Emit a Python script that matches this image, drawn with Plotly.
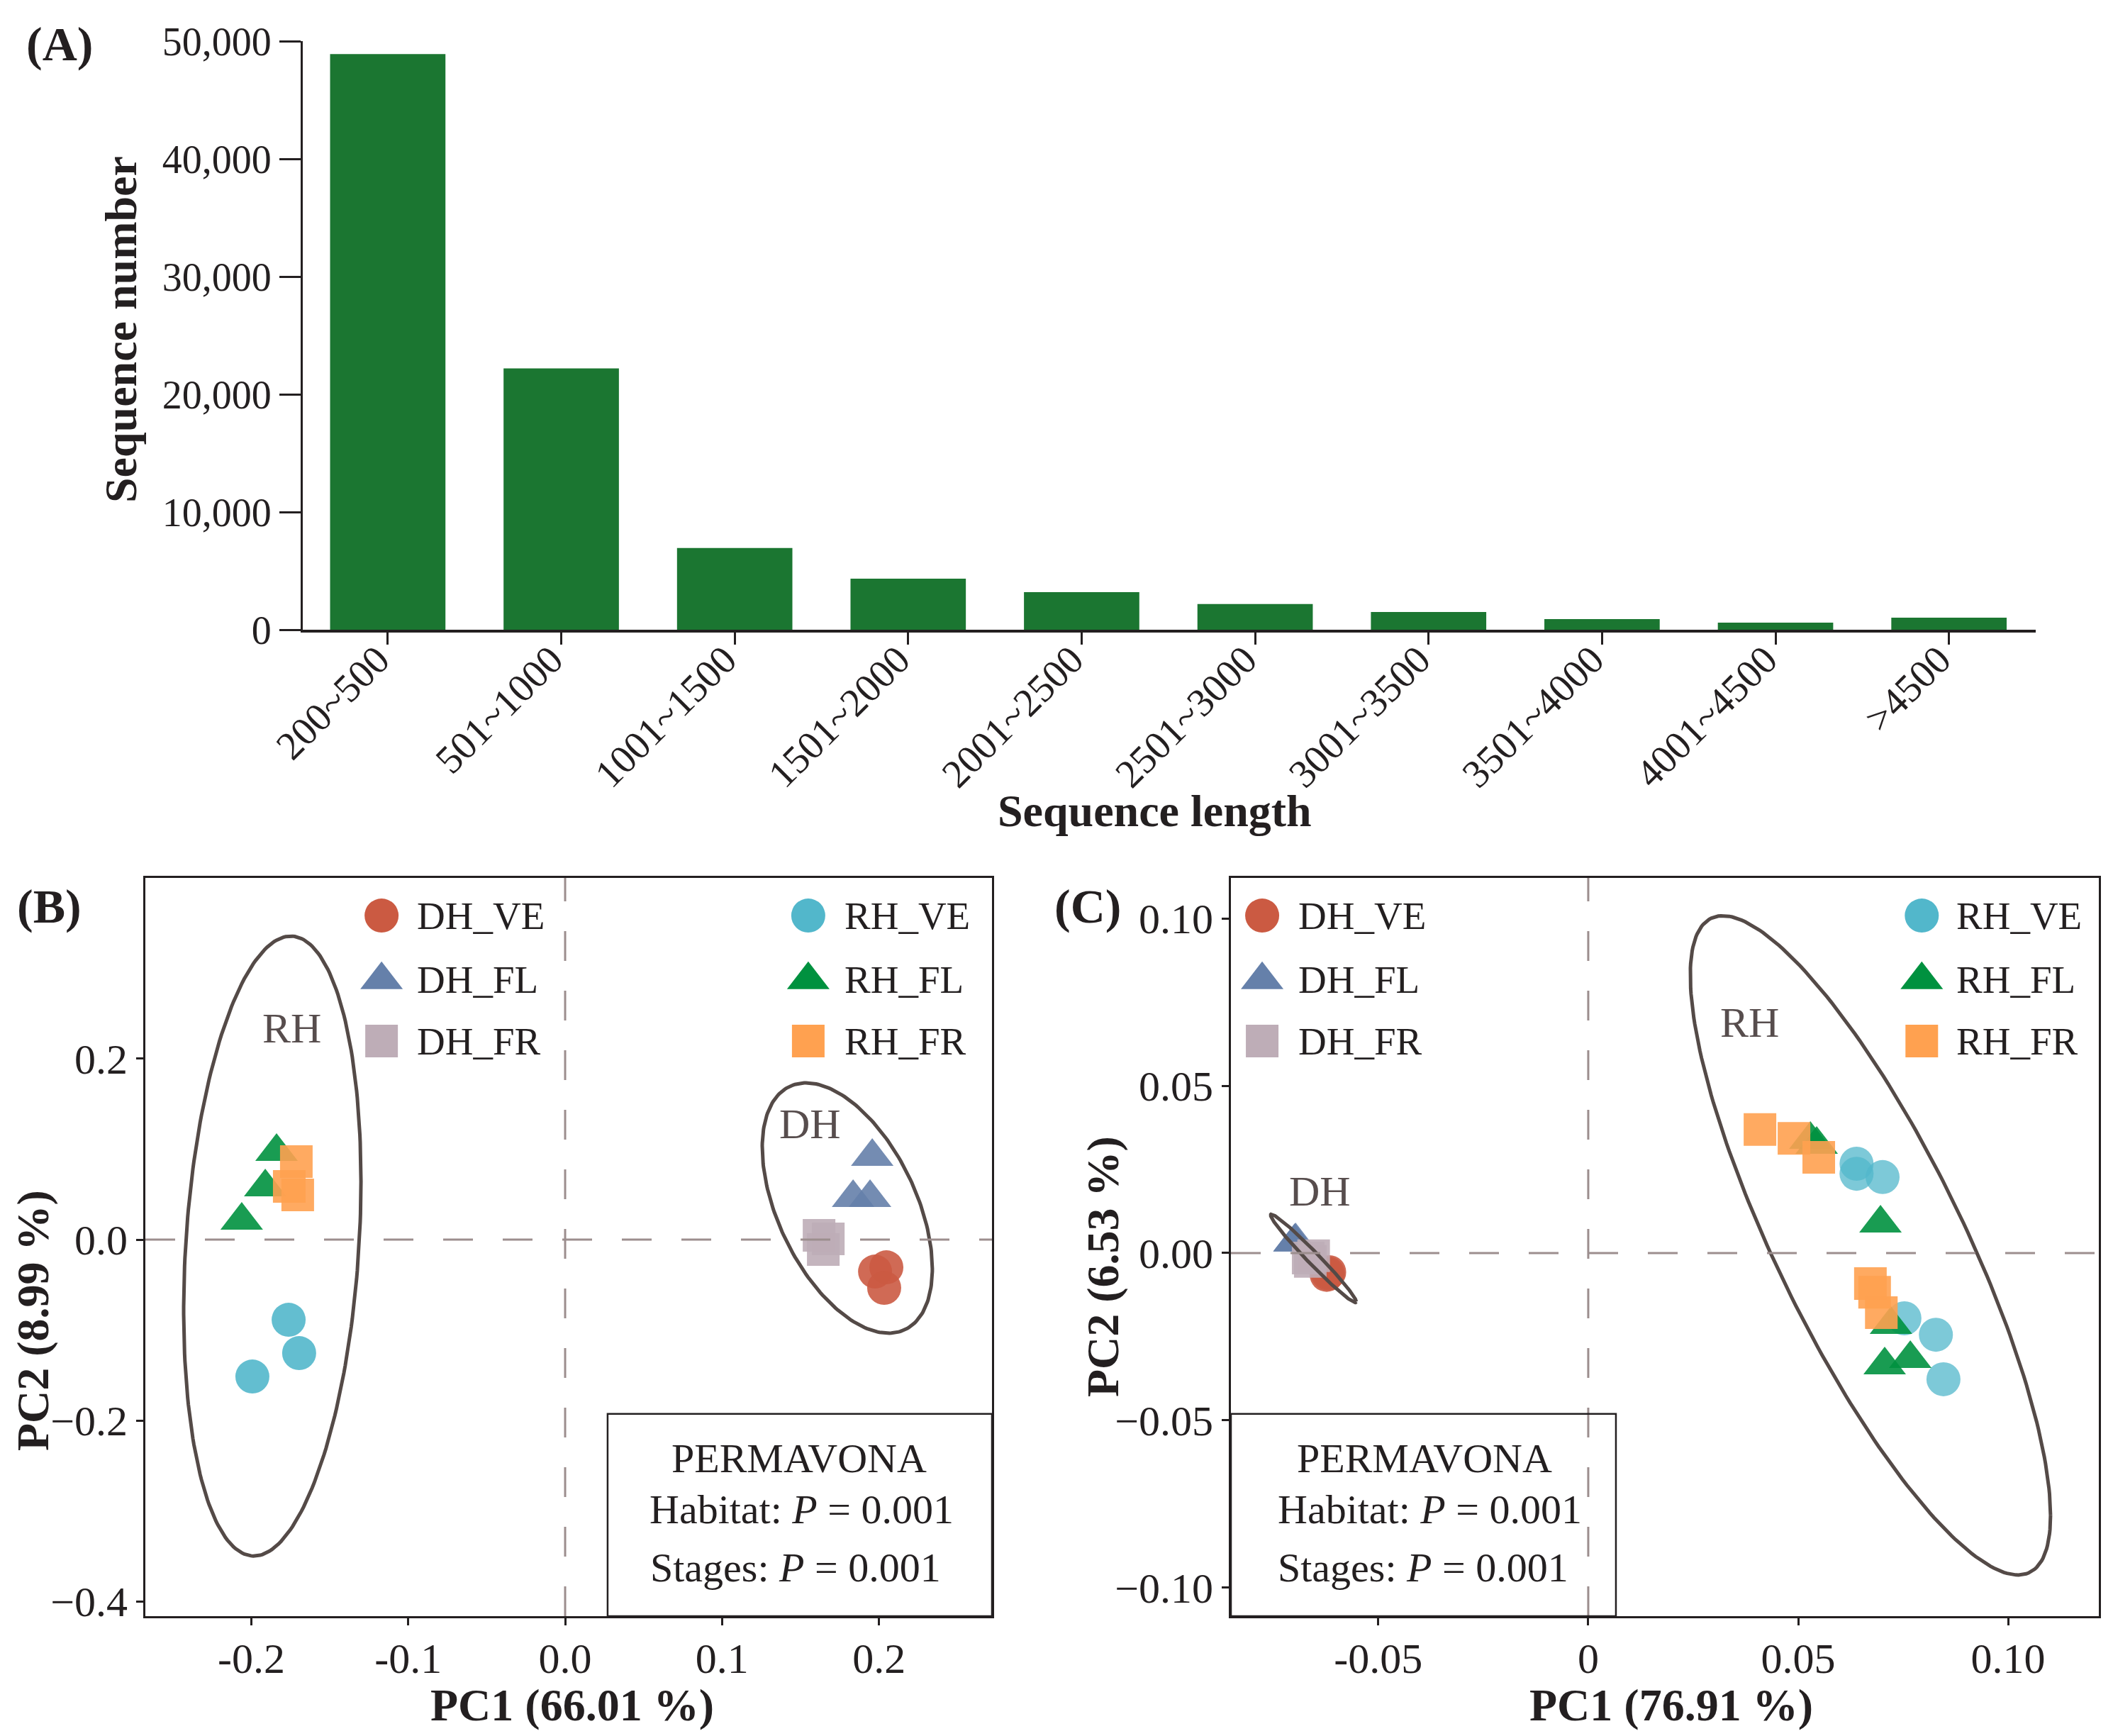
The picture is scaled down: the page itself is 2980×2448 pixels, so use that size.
import numpy as np
import plotly.graph_objects as go

# ---- (A) sequence length distribution ----
LENGTH_BINS = ["200~500", "501~1000", "1001~1500", "1501~2000", "2001~2500",
               "2501~3000", "3001~3500", "3501~4000", "4001~4500", ">4500"]
SEQ_COUNTS = [48900, 22200, 6950, 4330, 3200, 2180, 1500, 900, 600, 1030]
A_YTICKS = [0, 10000, 20000, 30000, 40000, 50000]
A_YTICKTEXT = ["0", "10,000", "20,000", "30,000", "40,000", "50,000"]

# ---- (B) PCA, PC1 66.01 % / PC2 8.99 % ----
B_DH_VE_X = [0.1975, 0.2047, 0.2033]
B_DH_VE_Y = [-0.0353, -0.0306, -0.0533]
B_DH_FL_X = [0.1957, 0.1835, 0.1943]
B_DH_FL_Y = [0.0917, 0.0462, 0.0462]
B_DH_FR_X = [0.1618, 0.1677, 0.1645]
B_DH_FR_Y = [0.0047, 0.0008, -0.0110]
B_RH_VE_X = [-0.1762, -0.1695, -0.1993]
B_RH_VE_Y = [-0.0886, -0.1254, -0.1513]
B_RH_FL_X = [-0.1839, -0.1911, -0.2061]
B_RH_FL_Y = [0.0972, 0.0580, 0.0212]
B_RH_FR_X = [-0.1713, -0.1758, -0.1704]
B_RH_FR_Y = [0.0862, 0.0588, 0.0494]

# ---- (C) PCA, PC1 76.91 % / PC2 6.53 % ----
C_DH_VE_X = [-0.0620, -0.0617, -0.0623]
C_DH_VE_Y = [-0.0061, -0.0057, -0.0065]
C_DH_FL_X = [-0.0699, -0.0697, -0.0700]
C_DH_FL_Y = [0.0034, 0.0036, 0.0032]
C_DH_FR_X = [-0.0667, -0.0654, -0.0662]
C_DH_FR_Y = [-0.0015, -0.0008, -0.0025]
C_RH_VE_X = [0.0639, 0.0639, 0.0701, 0.0753, 0.0828, 0.0846]
C_RH_VE_Y = [0.0267, 0.0237, 0.0227, -0.0195, -0.0244, -0.0377]
C_RH_FL_X = [0.0529, 0.0544, 0.0696, 0.0721, 0.0706, 0.0767]
C_RH_FL_Y = [0.0339, 0.0324, 0.0089, -0.0214, -0.0335, -0.0316]
C_RH_FR_X = [0.0409, 0.0490, 0.0549, 0.0672, 0.0682, 0.0698]
C_RH_FR_Y = [0.0369, 0.0343, 0.0286, -0.0091, -0.0117, -0.0178]

# habitat ellipses: centre x, centre y, half-width x, half-height y, phase (deg)
B_ELL_RH = [-0.1866, -0.0071, 0.0565, 0.3425, 78]
B_ELL_DH = [0.1798, 0.0349, 0.0542, 0.1383, 119]
C_ELL_DH = [-0.06545, -0.0016, 0.0102, 0.0132, 169]
C_ELL_RH = [0.0672, 0.0023, 0.0429, 0.0985, 145]

B_XTICKS = [-0.2, -0.1, 0.0, 0.1, 0.2]
B_XTICKTEXT = ["-0.2", "-0.1", "0.0", "0.1", "0.2"]
B_YTICKS = [-0.4, -0.2, 0.0, 0.2]
B_YTICKTEXT = ["\u22120.4", "\u22120.2", "0.0", "0.2"]
C_XTICKS = [-0.05, 0.0, 0.05, 0.10]
C_XTICKTEXT = ["-0.05", "0", "0.05", "0.10"]
C_YTICKS = [-0.10, -0.05, 0.0, 0.05, 0.10]
C_YTICKTEXT = ["\u22120.10", "\u22120.05", "0.00", "0.05", "0.10"]

GROUPS = ["DH_VE", "DH_FL", "DH_FR", "RH_VE", "RH_FL", "RH_FR"]
COLORS = {"DH_VE": "#CB5A42", "DH_FL": "#6580AA", "DH_FR": "#BEADB7",
          "RH_VE": "#52B7CB", "RH_FL": "#00913F", "RH_FR": "#FFA150"}
SYMBOLS = {"DH_VE": "circle", "DH_FL": "triangle-up", "DH_FR": "square",
           "RH_VE": "circle", "RH_FL": "triangle-up", "RH_FR": "square"}
SIZES = {"circle": 48, "triangle-up": 52, "square": 46}

FONT = "Liberation Serif"
INK = "#231f20"
ELL_COLOR = "#544a47"
DASH_COLOR = "#9C8E8E"

W, H = 2980, 2448
OFF = 8  # the page body margin shifts the figure by this much


def px(x):
    return (x - OFF) / W


def py(y):
    return 1 - (y - OFF) / H


fig = go.Figure()

# (A) bars
fig.add_trace(go.Bar(x=LENGTH_BINS, y=SEQ_COUNTS, width=0.665,
                     marker=dict(color="#1B7631", line=dict(width=0)),
                     xaxis="x", yaxis="y", showlegend=False))


def ellipse(p, n=240):
    cx, cy, rx, ry, ph = p
    t = np.linspace(0, 2 * np.pi, n)
    return cx + rx * np.cos(t), cy + ry * np.cos(t - np.radians(ph))


def add_points(data, xa, ya, opac):
    for g in GROUPS:
        xs, ys = data[g]
        fig.add_trace(go.Scatter(
            x=xs, y=ys, mode="markers", xaxis=xa, yaxis=ya, showlegend=False,
            marker=dict(symbol=SYMBOLS[g], size=SIZES[SYMBOLS[g]], color=COLORS[g],
                        opacity=opac.get(g, 0.9), line=dict(width=0))))


b_data = {"DH_VE": (B_DH_VE_X, B_DH_VE_Y), "DH_FL": (B_DH_FL_X, B_DH_FL_Y),
          "DH_FR": (B_DH_FR_X, B_DH_FR_Y), "RH_VE": (B_RH_VE_X, B_RH_VE_Y),
          "RH_FL": (B_RH_FL_X, B_RH_FL_Y), "RH_FR": (B_RH_FR_X, B_RH_FR_Y)}
c_data = {"DH_VE": (C_DH_VE_X, C_DH_VE_Y), "DH_FL": (C_DH_FL_X, C_DH_FL_Y),
          "DH_FR": (C_DH_FR_X, C_DH_FR_Y), "RH_VE": (C_RH_VE_X, C_RH_VE_Y),
          "RH_FL": (C_RH_FL_X, C_RH_FL_Y), "RH_FR": (C_RH_FR_X, C_RH_FR_Y)}

add_points(b_data, "x2", "y2", {})
add_points(c_data, "x3", "y3", {"RH_VE": 0.75})

for p, xa, ya in [(B_ELL_RH, "x2", "y2"), (B_ELL_DH, "x2", "y2"),
                  (C_ELL_DH, "x3", "y3"), (C_ELL_RH, "x3", "y3")]:
    ex, ey = ellipse(p)
    fig.add_trace(go.Scatter(x=ex, y=ey, mode="lines", xaxis=xa, yaxis=ya,
                             line=dict(color=ELL_COLOR, width=5), showlegend=False,
                             hoverinfo="skip"))

# legend keys drawn on hidden overlay axes (0-1 over each PCA panel)
LEG_ROWS = [0.949, 0.862, 0.779]
LEG_KEYS = {  # panel -> axes, then x of left key / left text / right key / right text
    "B": ("x4", "y4", "x2", 0.279, 0.319, 0.783, 0.824),
    "C": ("x5", "y5", "x3", 0.036, 0.076, 0.796, 0.834),
}
annotations = []
for panel, (xa, ya, xref, kx1, tx1, kx2, tx2) in LEG_KEYS.items():
    for col, (kx, tx) in enumerate([(kx1, tx1), (kx2, tx2)]):
        for r, g in enumerate(GROUPS[col * 3:(col + 1) * 3]):
            fig.add_trace(go.Scatter(
                x=[kx], y=[LEG_ROWS[r]], mode="markers", xaxis=xa, yaxis=ya,
                showlegend=False, hoverinfo="skip",
                marker=dict(symbol=SYMBOLS[g], size=SIZES[SYMBOLS[g]],
                            color=COLORS[g], line=dict(width=0))))
            annotations.append(dict(
                text=g, x=tx, y=LEG_ROWS[r], xref=xref + " domain",
                yref=xref.replace("x", "y") + " domain", xanchor="left",
                yanchor="middle", showarrow=False,
                font=dict(family=FONT, size=55, color=INK)))

# group labels
for txt, x, y, xr in [("RH", -0.174, 0.2335, "x2"), ("DH", 0.1559, 0.1277, "x2"),
                      ("DH", -0.0639, 0.0184, "x3"), ("RH", 0.0385, 0.0689, "x3")]:
    annotations.append(dict(text=txt, x=x, y=y, xref=xr, yref=xr.replace("x", "y"),
                            showarrow=False, xanchor="center", yanchor="middle",
                            font=dict(family=FONT, size=60, color="#574d4d")))

# PERMANOVA text boxes
BOX_LINES = ["PERMAVONA", "Habitat: <i>P</i> = 0.001", "Stages: <i>P</i> = 0.001"]
BOX_ROWS = [0.214, 0.145, 0.066]
for xr, xs in [("x2", [0.772, 0.775, 0.768]), ("x3", [0.223, 0.229, 0.221])]:
    for line, x, y in zip(BOX_LINES, xs, BOX_ROWS):
        annotations.append(dict(text=line, x=x, y=y, xref=xr + " domain",
                                yref=xr.replace("x", "y") + " domain", showarrow=False,
                                xanchor="center", yanchor="middle",
                                font=dict(family=FONT, size=58, color=INK)))

# axis titles and panel letters (positions in figure pixels)
bold = dict(family=FONT, size=64, color=INK)
for txt, x, y, ang in [("Sequence length", 1628, 1143, 0),
                       ("Sequence number", 170, 465, -90),
                       ("PC1 (66.01 %)", 807, 2404, 0),
                       ("PC2 (8.99 %)", 46, 1862, -90),
                       ("PC1 (76.91 %)", 2357, 2404, 0),
                       ("PC2 (6.53 %)", 1555, 1786, -90)]:
    annotations.append(dict(text="<b>%s</b>" % txt, x=px(x), y=py(y), xref="paper",
                            yref="paper", textangle=ang, showarrow=False,
                            xanchor="center", yanchor="middle", font=bold))
for txt, x, y in [("(A)", 84, 62), ("(B)", 69, 1278), ("(C)", 1534, 1278)]:
    annotations.append(dict(text="<b>%s</b>" % txt, x=px(x), y=py(y), xref="paper",
                            yref="paper", showarrow=False, xanchor="center",
                            yanchor="middle", font=dict(family=FONT, size=68, color=INK)))

shapes = []
dash = dict(color=DASH_COLOR, width=3, dash="42px,42px")
for xr in ["x2", "x3"]:
    yr = xr.replace("x", "y")
    shapes.append(dict(type="line", xref=xr, yref=yr + " domain", x0=0, x1=0, y0=0, y1=1,
                       line=dash, layer="above"))
    shapes.append(dict(type="line", xref=xr + " domain", yref=yr, x0=0, x1=1, y0=0, y1=0,
                       line=dash, layer="above"))
shapes.append(dict(type="rect", xref="x2 domain", yref="y2 domain", x0=0.546, x1=1,
                   y0=0, y1=0.274, line=dict(color=INK, width=2.5)))
shapes.append(dict(type="rect", xref="x3 domain", yref="y3 domain", x0=0, x1=0.4436,
                   y0=0, y1=0.274, line=dict(color=INK, width=2.5)))

tickfont_a = dict(family=FONT, size=56, color=INK)
tickfont_p = dict(family=FONT, size=60, color=INK)
frame = dict(showline=True, linecolor=INK, linewidth=3, mirror=True, showgrid=False,
             zeroline=False, ticks="outside", ticklen=10, tickwidth=2.5, tickcolor=INK,
             tickfont=tickfont_p, automargin=False)

fig.update_layout(
    width=W, height=H, margin=dict(l=0, r=0, t=0, b=0, pad=0), autosize=False,
    paper_bgcolor="white", plot_bgcolor="white", showlegend=False,
    font=dict(family=FONT, color=INK),
    xaxis=dict(domain=[px(427), px(2871)], anchor="y", type="category", range=[-0.49, 9.5],
               showline=True, linecolor=INK, linewidth=4, showgrid=False, zeroline=False,
               ticks="outside", ticklen=17, tickwidth=2.5, tickcolor=INK, tickangle=-45,
               ticklabelstandoff=-34, ticklabelshift=-14,
               tickfont=tickfont_a, automargin=False),
    yaxis=dict(domain=[py(888), py(58)], anchor="x", range=[0, 50000],
               tickvals=A_YTICKS, ticktext=A_YTICKTEXT,
               showline=True, linecolor=INK, linewidth=3, showgrid=False, zeroline=False,
               ticks="outside", ticklen=30, tickwidth=2.5, tickcolor=INK,
               tickfont=tickfont_a, automargin=False),
    xaxis2=dict(domain=[px(205), px(1399)], anchor="y2", range=[-0.2675, 0.2720],
                tickvals=B_XTICKS, ticktext=B_XTICKTEXT, ticklabelstandoff=-5, **frame),
    yaxis2=dict(domain=[py(2279), py(1238)], anchor="x2", range=[-0.4161, 0.3997],
                tickvals=B_YTICKS, ticktext=B_YTICKTEXT, **frame),
    xaxis3=dict(domain=[px(1736), px(2960)], anchor="y3", range=[-0.0851, 0.1216],
                tickvals=C_XTICKS, ticktext=C_XTICKTEXT, ticklabelstandoff=-5, **frame),
    yaxis3=dict(domain=[py(2279), py(1238)], anchor="x3", range=[-0.1085, 0.1121],
                tickvals=C_YTICKS, ticktext=C_YTICKTEXT, **frame),
    xaxis4=dict(overlaying="x2", range=[0, 1], visible=False, automargin=False),
    yaxis4=dict(overlaying="y2", range=[0, 1], visible=False, automargin=False),
    xaxis5=dict(overlaying="x3", range=[0, 1], visible=False, automargin=False),
    yaxis5=dict(overlaying="y3", range=[0, 1], visible=False, automargin=False),
    annotations=annotations, shapes=shapes,
)

fig.write_html("out.html")
